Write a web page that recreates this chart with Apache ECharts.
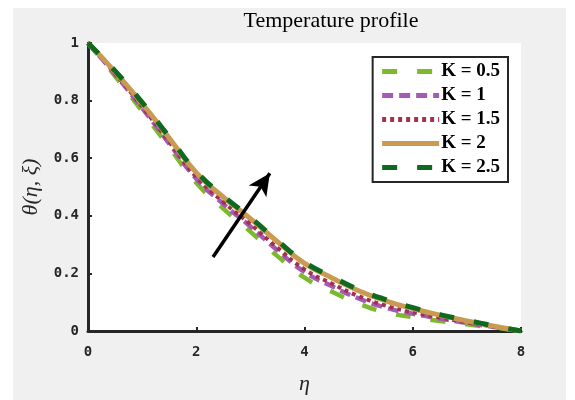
<!DOCTYPE html>
<html>
<head>
<meta charset="utf-8">
<script src="https://cdn.jsdelivr.net/npm/echarts@6/dist/echarts.min.js"></script>
<style>
  html, body { margin: 0; padding: 0; background: #fff; }
  #chart { width: 575px; height: 400px; }
</style>
</head>
<body>
<div id="chart"></div>
<script>
// eta values, step 0.5
const eta = [0, 0.5, 1, 1.5, 2, 2.5, 3, 3.5, 4, 4.5, 5, 5.5, 6, 6.5, 7, 7.5, 8]

const k05 = [1, 0.885, 0.763, 0.638, 0.515, 0.425, 0.345, 0.26, 0.185, 0.137, 0.095, 0.065, 0.048, 0.035, 0.023, 0.012, 0]
const k1 = [1, 0.891, 0.774, 0.651, 0.529, 0.441, 0.363, 0.28, 0.205, 0.156, 0.113, 0.081, 0.06, 0.043, 0.028, 0.014, 0]
const k15 = [1, 0.894, 0.779, 0.657, 0.535, 0.448, 0.371, 0.289, 0.214, 0.165, 0.121, 0.088, 0.065, 0.047, 0.03, 0.015, 0]
const k2 = [1, 0.9, 0.79, 0.67, 0.55, 0.465, 0.39, 0.31, 0.235, 0.185, 0.14, 0.105, 0.078, 0.055, 0.035, 0.017, 0]
const k25 = [1, 0.903, 0.794, 0.674, 0.554, 0.469, 0.394, 0.314, 0.239, 0.189, 0.144, 0.109, 0.081, 0.057, 0.037, 0.018, 0]

const names = ['K = 0.5', 'K = 1', 'K = 1.5', 'K = 2', 'K = 2.5']
// arrow from tail to head, in data units
const arrowFrom = [2.31, 0.257]
const arrowTo = [3.36, 0.548]

const pair = (ys) => eta.map((x, i) => [x, ys[i]])

const styles = [
  { color: '#7dba2b', width: 4.5, type: [15, 20] },
  { color: '#a35bb5', width: 4.5, type: [11, 6] },
  { color: '#a3304f', width: 4, type: [4, 4] },
  { color: '#c89b50', width: 5, type: 'solid' },
  { color: '#0d6a1f', width: 5, type: [15, 20] }
]
const values = [k05, k1, k15, k2, k25]

const series = values.map((ys, i) => ({
  name: names[i],
  type: 'line',
  data: pair(ys),
  smooth: true,
  showSymbol: false,
  symbol: 'none',
  color: styles[i].color,
  lineStyle: { color: styles[i].color, width: styles[i].width, type: styles[i].type, cap: 'butt' }
}))

series.push({
  type: 'line',
  data: [],
  silent: true,
  markLine: {
    silent: true,
    symbol: ['none', 'arrow'],
    symbolSize: [16, 22],
    lineStyle: { color: '#000', width: 3.5, type: 'solid' },
    label: { show: false },
    data: [[{ coord: arrowFrom }, { coord: arrowTo }]]
  }
})

const tickFont = { fontFamily: 'DejaVu Sans Mono', fontSize: 14, fontWeight: 'bold', color: '#262626' }

const option = {
  backgroundColor: '#fff',
  animation: false,
  graphic: [{
    type: 'rect',
    z: -10,
    shape: { x: 13, y: 8, width: 553, height: 392 },
    style: { fill: '#f0f0f0' }
  }],
  title: {
    text: 'Temperature profile',
    left: 326,
    top: 5,
    textAlign: 'center',
    textStyle: { fontFamily: 'Liberation Serif', fontSize: 22, fontWeight: 'normal', color: '#000' }
  },
  grid: {
    left: 88, right: 54, top: 43, bottom: 65,
    show: true, backgroundColor: '#fff', borderWidth: 0
  },
  legend: {
    data: names,
    orient: 'vertical',
    right: 67,
    top: 57,
    itemWidth: 57,
    itemHeight: 14,
    itemGap: 5,
    padding: [5, 8, 5, 7],
    backgroundColor: '#fff',
    borderColor: '#262626',
    borderWidth: 2,
    borderRadius: 0,
    itemStyle: { opacity: 0, borderWidth: 0 },
    lineStyle: { width: 5, opacity: 1 },
    textStyle: { fontFamily: 'Liberation Serif', fontSize: 19, fontWeight: 'bold', color: '#000', padding: [0, 0, 0, -3] }
  },
  xAxis: {
    type: 'value',
    min: 0, max: 8, interval: 2,
    name: 'η',
    nameLocation: 'middle',
    nameGap: 42,
    nameTextStyle: { fontFamily: 'Liberation Serif', fontStyle: 'italic', fontSize: 22, color: '#262626' },
    axisLine: { lineStyle: { color: '#262626', width: 3 } },
    axisTick: { inside: true, length: 4, lineStyle: { color: '#262626', width: 2 } },
    axisLabel: Object.assign({ margin: 14 }, tickFont),
    splitLine: { show: false }
  },
  yAxis: {
    type: 'value',
    min: 0, max: 1, interval: 0.2,
    name: 'θ(η, ξ)',
    nameLocation: 'middle',
    nameGap: 46,
    nameTextStyle: { fontFamily: 'Liberation Serif', fontStyle: 'italic', fontSize: 22, color: '#262626' },
    axisLine: { lineStyle: { color: '#262626', width: 3 } },
    axisTick: { inside: true, length: 4, lineStyle: { color: '#262626', width: 2 } },
    axisLabel: Object.assign({ margin: 9 }, tickFont),
    splitLine: { show: false }
  },
  series: series
}

echarts.init(document.getElementById('chart')).setOption(option)
</script>
</body>
</html>
